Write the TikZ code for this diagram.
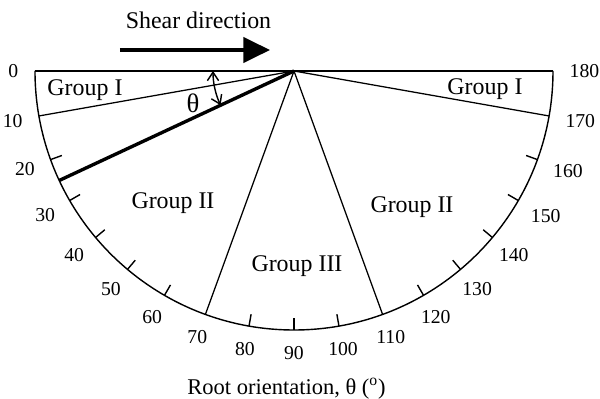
\documentclass[tikz,border=0pt]{standalone}
\usepackage{fontspec}
\setmainfont{Liberation Serif}
\usetikzlibrary{arrows.meta}
\tikzset{
  rim/.style={line width=1pt},
  ray/.style={line width=0.9pt},
  grouplabel/.style={font=\fontsize{17}{20}\selectfont,inner sep=0pt},
  anglabel/.style={font=\fontsize{14}{16}\selectfont,inner sep=1pt},
}
\newcommand{\rad}{259}

\begin{document}
\begin{tikzpicture}[x=0.025cm,y=0.025cm]
\useasboundingbox (-294,-328) rectangle (306,71);
\coordinate (O) at (0,0);
\coordinate (L) at (180:\rad);
\coordinate (R) at (0:\rad);
% rim of the half disc
\draw[line width=1.3pt] (L) -- (R);
\draw[rim] (L) arc[start angle=180,end angle=360,radius=\rad];
% ticks and angle labels
\foreach \a in {20,30,40,50,60,80,90,100,120,130,140,150,160}
  \draw[rim] ({180+\a}:\rad) -- ({180+\a}:{\rad-12});
\foreach \a in {0,10,...,180}
  \node[anglabel,anchor=\a] (n\a) at ({180+\a}:274) {\a};
% group borders
\foreach \a in {10,70,110,170} {
  \coordinate (e\a) at ({180+\a}:\rad);
  \draw[ray] (O) -- (e\a);
}
\coordinate (e25) at (205:\rad);
\draw[line width=2.4pt] (O) -- (e25);
% angle theta
\draw[line width=1pt,{Straight Barb[length=6pt,width=8pt]}-{Straight Barb[length=6pt,width=8pt]}]
  (180:81) arc[start angle=180,end angle=205,radius=81];
\node[font=\fontsize{19}{22}\selectfont] (th) at (-101,-32) {θ};
% group names
\node[grouplabel] (g1l) at (-209,-19) {Group I};
\node[grouplabel] (g1r) at (191,-18) {Group I};
\node[grouplabel] (g2l) at (-121,-132) {Group II};
\node[grouplabel] (g2r) at (118,-136) {Group II};
\node[grouplabel] (g3) at (3,-195) {Group III};
% shear
\node[grouplabel] (shear) at (-95.5,50.5) {Shear direction};
\coordinate (s0) at (-174,21);
\coordinate (s1) at (-24,21);
\draw[line width=2.4pt,-{Triangle[length=19pt,width=18pt]}] (s0) -- (s1);
% axis title
\node[font=\fontsize{16}{19}\selectfont] (axis) at (-7.5,-318) {Root orientation, θ (\textsuperscript{o})};
\end{tikzpicture}
\end{document}
